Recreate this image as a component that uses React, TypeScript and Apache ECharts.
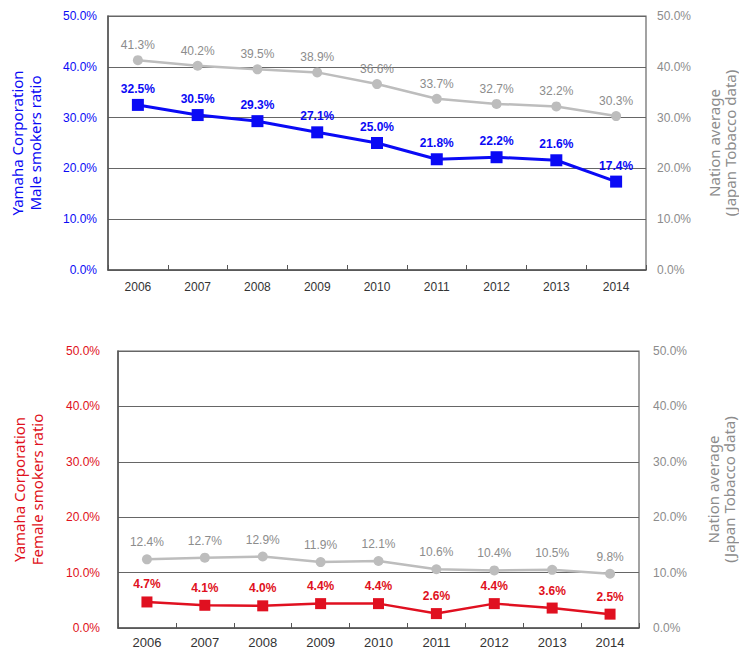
import React, { useEffect, useRef } from "react";
import * as echarts from "echarts";

const years = ["2006", "2007", "2008", "2009", "2010", "2011", "2012", "2013", "2014"];
const maleYamaha = [32.5, 30.5, 29.3, 27.1, 25.0, 21.8, 22.2, 21.6, 17.4];
const maleNation = [41.3, 40.2, 39.5, 38.9, 36.6, 33.7, 32.7, 32.2, 30.3];
const femaleYamaha = [4.7, 4.1, 4.0, 4.4, 4.4, 2.6, 4.4, 3.6, 2.5];
const femaleNation = [12.4, 12.7, 12.9, 11.9, 12.1, 10.6, 10.4, 10.5, 9.8];

const BLUE = "#0a0af5";
const RED = "#e01020";
const GRAY_LINE = "#bdbdbd";
const GRAY_TEXT = "#8c8c8c";
const AXIS = "#555555";
const TICK_FONT = "'Liberation Sans', Arial, sans-serif";
const NAME_FONT = "'Noto Sans', sans-serif";

const pct = (v: number) => v.toFixed(1) + "%";

export default function App() {
  const ref = useRef<HTMLDivElement>(null);
  useEffect(() => {
    if (!ref.current) return;
    const chart = echarts.init(ref.current, null, { renderer: "svg" });

    const xAxisBase = (gridIndex: number, margin: number, fontSize: number) => ({
      type: "category",
      gridIndex,
      data: years,
      boundaryGap: true,
      axisLine: { show: true, lineStyle: { color: AXIS, width: 1.5 } },
      axisTick: { show: true, inside: true, length: 5, lineStyle: { color: AXIS } },
      axisLabel: { color: "#333", fontFamily: TICK_FONT, fontSize, margin },
      splitLine: { show: false },
    });

    const yAxisBase = (
      gridIndex: number,
      position: "left" | "right",
      name: string,
      color: string,
      nameGap: number,
      labelMargin: number,
      lineHeight: number
    ) => ({
      type: "value",
      gridIndex,
      position,
      min: 0,
      max: 50,
      interval: 10,
      name,
      nameLocation: "middle",
      nameRotate: 90,
      nameGap,
      nameTextStyle: {
        color,
        fontFamily: NAME_FONT,
        fontSize: 15,
        lineHeight,
        align: "center",
      },
      axisLine: { show: position === "left", lineStyle: { color: AXIS, width: 1.5 } },
      axisTick: { show: false },
      axisLabel: {
        color,
        fontFamily: TICK_FONT,
        fontSize: 12,
        margin: labelMargin,
        formatter: (v: number) => pct(v),
      },
      splitLine: {
        show: position === "left",
        lineStyle: { color: "#666", width: 1.2 },
      },
    });

    const lineSeries = (
      data: number[],
      xAxisIndex: number,
      yAxisIndex: number,
      color: string,
      labelColor: string,
      symbol: string,
      symbolSize: number,
      width: number,
      bold: boolean,
      distance: number,
      z: number
    ) => ({
      type: "line",
      data,
      xAxisIndex,
      yAxisIndex,
      symbol,
      symbolSize,
      z,
      lineStyle: { color, width },
      itemStyle: { color, borderWidth: 0 },
      label: {
        show: true,
        position: "top",
        distance,
        color: labelColor,
        fontFamily: TICK_FONT,
        fontSize: 12,
        fontWeight: bold ? "bold" : "normal",
        formatter: (p: any) => pct(p.value),
      },
    });

    chart.setOption({
      animation: false,
      backgroundColor: "#ffffff",
      grid: [
        { left: 108, top: 16, width: 538, height: 254, show: true, borderColor: "#666", borderWidth: 1.2, backgroundColor: "transparent", outerBoundsMode: "none", containLabel: false },
        { left: 118, top: 351, width: 521, height: 277, show: true, borderColor: "#666", borderWidth: 1.2, backgroundColor: "transparent", outerBoundsMode: "none", containLabel: false },
      ],
      xAxis: [xAxisBase(0, 11, 12), xAxisBase(1, 8, 13)],
      yAxis: [
        yAxisBase(0, "left", "Yamaha Corporation\nMale smokers ratio", BLUE, 64, 11, 18),
        yAxisBase(0, "right", "Nation average\n(Japan Tobacco data)", GRAY_TEXT, 60, 11, 16),
        yAxisBase(1, "left", "Yamaha Corporation\nFemale smokers ratio", RED, 72, 18, 18),
        yAxisBase(1, "right", "Nation average\n(Japan Tobacco data)", GRAY_TEXT, 66, 14, 16),
      ],
      series: [
        lineSeries(maleNation, 0, 1, GRAY_LINE, GRAY_TEXT, "circle", 10, 2.5, false, 4, 2),
        lineSeries(maleYamaha, 0, 0, BLUE, BLUE, "rect", 12, 3, true, 4, 3),
        lineSeries(femaleNation, 1, 3, GRAY_LINE, GRAY_TEXT, "circle", 10, 2.5, false, 6, 2),
        lineSeries(femaleYamaha, 1, 2, RED, RED, "rect", 11, 2.5, true, 6, 3),
      ],
    });
    return () => chart.dispose();
  }, []);
  return (
    <div
      ref={ref}
      style={{ position: "fixed", left: 0, top: 0, width: 739, height: 652 }}
    />
  );
}
